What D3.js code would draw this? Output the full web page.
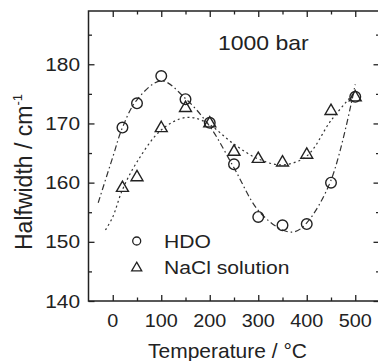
<!DOCTYPE html>
<html><head><meta charset="utf-8">
<script src="https://cdn.jsdelivr.net/npm/d3@7"></script>
<style>
html,body{margin:0;padding:0;background:#fff;}
svg{display:block;}
text{font-family:"Liberation Sans",Arial,sans-serif;fill:#222;}
</style></head>
<body>
<svg id="c" width="378" height="361"></svg>
<script>
// ---- data ----
const temps = [20, 50, 100, 150, 200, 250, 300, 350, 400, 450, 500];
const hdo   = [169.3, 173.4, 178.0, 174.1, 170.1, 163.1, 154.2, 152.8, 153.0, 160.0, 174.5];
const nacl  = [159.1, 160.9, 169.2, 172.6, 170.0, 165.2, 164.0, 163.4, 164.7, 172.1, 174.4];
// fitted guide curves
const hdoFitT = [-30, 0, 20, 50, 100, 150, 200, 250, 300, 350, 375, 400, 450, 500];
const hdoFitV = [156.6, 164.3, 169.3, 174.0, 177.2, 174.2, 169.5, 162.5, 155.3, 152.0, 151.7, 153.2, 160.4, 176.6];
const naclFitT = [-15, 0, 20, 50, 100, 150, 190, 250, 300, 350, 400, 450, 500];
const naclFitV = [152.0, 154.2, 158.8, 163.5, 168.9, 171.0, 170.3, 166.5, 164.0, 163.0, 164.5, 170.5, 175.4];
const xMajor = [0, 100, 200, 300, 400, 500];
const xMinor = [50, 150, 250, 350, 450];
const yMajor = [140, 150, 160, 170, 180];
const yMinor = [145, 155, 165, 175, 185];
const legendLabels = ["HDO", "NaCl solution"];
const annotation = "1000 bar";

const svg = d3.select("#c");
const L = 88.5, R = 379.5, T = 11, B = 301;
const x = d3.scaleLinear().domain([-50, 550]).range([L, R]);
const y = d3.scaleLinear().domain([140, 189]).range([B, T]);
const ink = "#222";

function htext(px, py, str, size, anchor, sx){
  return svg.append("text")
    .attr("transform", `translate(${px},${py}) scale(${sx || 1.1},1)`)
    .attr("text-anchor", anchor || "start")
    .style("font-size", size + "px")
    .text(str);
}

// guide curves
const lineGen = d3.line().x(d => x(d[0])).y(d => y(d[1])).curve(d3.curveCatmullRom.alpha(0.5));
svg.append("path").datum(hdoFitT.map((t,i)=>[t, hdoFitV[i]]))
  .attr("d", lineGen).attr("fill","none").attr("stroke","#333").attr("stroke-width",1.2)
  .attr("stroke-dasharray","6,3,1.5,3");
svg.append("path").datum(naclFitT.map((t,i)=>[t, naclFitV[i]]))
  .attr("d", lineGen).attr("fill","none").attr("stroke","#333").attr("stroke-width",1.2)
  .attr("stroke-dasharray","2,3");

// markers
const circ = d3.symbol().type(d3.symbolCircle).size(Math.PI*5.3*5.3);
const tri = d3.symbol().type(d3.symbolTriangle).size(62);
svg.append("g").selectAll("path").data(temps.map((t,i)=>[t, hdo[i]])).join("path")
  .attr("d", circ).attr("transform", d=>`translate(${x(d[0])},${y(d[1])})`)
  .attr("fill","none").attr("stroke",ink).attr("stroke-width",1.4);
svg.append("g").selectAll("path").data(temps.map((t,i)=>[t, nacl[i]])).join("path")
  .attr("d", tri).attr("transform", d=>`translate(${x(d[0])},${y(d[1])})`)
  .attr("fill","none").attr("stroke",ink).attr("stroke-width",1.4);

// axes (ticks inward)
function ax(gen, tr, vals, len){
  const g = svg.append("g").attr("transform", tr)
    .call(gen.tickValues(vals).tickSize(len).tickFormat(""));
  g.select(".domain").remove();
  g.selectAll("line").attr("stroke", ink).attr("stroke-width",1.3);
  return g;
}
ax(d3.axisTop(x), `translate(0,${B})`, xMajor, 6);
ax(d3.axisTop(x), `translate(0,${B})`, xMinor, 3.5);
ax(d3.axisBottom(x), `translate(0,${T})`, xMajor, 6);
ax(d3.axisBottom(x), `translate(0,${T})`, xMinor, 3.5);
ax(d3.axisRight(y), `translate(${L},0)`, yMajor, 6);
ax(d3.axisRight(y), `translate(${L},0)`, yMinor, 3.5);
ax(d3.axisLeft(y), `translate(${R},0)`, yMajor, 6);
ax(d3.axisLeft(y), `translate(${R},0)`, yMinor, 3.5);

svg.append("rect").attr("x",L).attr("y",T).attr("width",R-L).attr("height",B-T)
  .attr("fill","none").attr("stroke",ink).attr("stroke-width",1.5);

// tick labels
xMajor.forEach(v => htext(x(v), 326.5, String(v), 18, "middle", 1.1));
yMajor.forEach(v => htext(80, y(v)+6.5, String(v), 18, "end", 1.16));

// axis titles
const xt = svg.append("text")
  .attr("transform", "translate(227.5,358) scale(1.05,1)")
  .attr("text-anchor","middle").style("font-size","20px");
xt.append("tspan").text("Temperature / ");
xt.append("tspan").text("\u00B0C");
const yt = svg.append("text")
  .attr("transform", "translate(31.5,172) rotate(-90)")
  .attr("text-anchor","middle").style("font-size","23px");
yt.append("tspan").text("Halfwidth / cm");
yt.append("tspan").attr("dy",-10).style("font-size","13px").text("-1");

// annotation
htext(218, 50, annotation, 20, "start", 1.15);

// legend
svg.append("path").attr("d", d3.symbol().type(d3.symbolCircle).size(Math.PI*4*4))
  .attr("transform", `translate(136.7,241)`).attr("fill","none").attr("stroke",ink).attr("stroke-width",1.3);
svg.append("path").attr("d", d3.symbol().type(d3.symbolTriangle).size(44))
  .attr("transform", `translate(136.7,268)`).attr("fill","none").attr("stroke",ink).attr("stroke-width",1.3);
htext(164, 247.5, legendLabels[0], 18.5, "start", 1.14);
htext(164, 274, legendLabels[1], 18.5, "start", 1.14);
</script>
</body></html>
